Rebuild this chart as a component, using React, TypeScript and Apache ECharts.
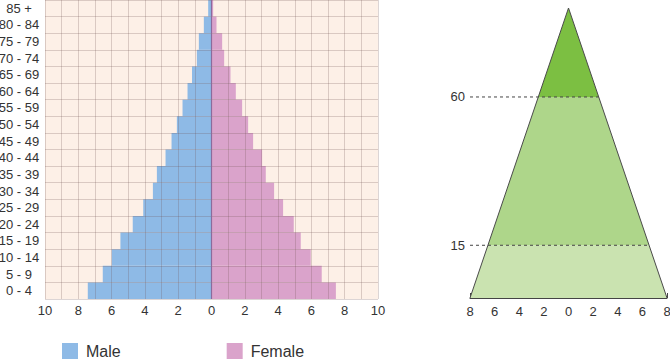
import React, { useEffect, useRef } from "react";
import * as echarts from "echarts";

// ---- Data: population pyramid (percent of population) ----
const ageGroups = [
  "0 - 4", "5 - 9", "10 - 14", "15 - 19", "20 - 24", "25 - 29", "30 - 34", "35 - 39", "40 - 44",
  "45 - 49", "50 - 54", "55 - 59", "60 - 64", "65 - 69", "70 - 74", "75 - 79", "80 - 84", "85 +",
];
const maleValues = [7.43, 6.53, 5.99, 5.47, 4.73, 4.1, 3.52, 3.28, 2.76, 2.4, 2.08, 1.74, 1.44, 1.17, 0.88, 0.76, 0.46, 0.2];
const femaleValues = [7.47, 6.62, 5.96, 5.36, 4.94, 4.3, 3.76, 3.26, 3.04, 2.5, 2.2, 1.84, 1.46, 1.14, 0.76, 0.64, 0.3, 0.1];
const seriesNames = ["Male", "Female"];

// ---- Data: schematic triangle ----
const triangleApexAge = 87;
const triangleBaseAge = -1;
const triangleHalfBase = 8;
const ageBreaks = [15, 60];
const triangleBands = [
  [triangleBaseAge, 15],
  [15, 60],
  [60, triangleApexAge],
];

// ---- Styles ----
const bandColors = ["#cae3b0", "#aed68a", "#7cbf42"];
const maleColor = "#8ebae6";
const femaleColor = "#daa3cb";
const FONT = "'Liberation Sans', Arial, sans-serif";

const halfWidthAt = (age: number) =>
  (triangleHalfBase * (triangleApexAge - age)) / (triangleApexAge - triangleBaseAge);

export default function App() {
  const ref = useRef<HTMLDivElement>(null);

  useEffect(() => {
    if (!ref.current) return;
    const chart = echarts.init(ref.current, undefined, { renderer: "svg" });

    const option: any = {
      animation: false,
      textStyle: { fontFamily: FONT },
      grid: [
        {
          left: 45, right: 292, top: 0, bottom: 61, outerBoundsMode: "none", containLabel: false,
          show: true, backgroundColor: "#fdf0e7", borderWidth: 0,
        },
        { left: 470, right: 3, top: 8, bottom: 62, outerBoundsMode: "none", containLabel: false },
      ],
      legend: {
        data: seriesNames,
        left: 62, top: 343, padding: 0,
        itemWidth: 16, itemHeight: 16, itemGap: 106,
        icon: "rect",
        textStyle: { fontSize: 16, color: "#333", fontFamily: FONT, padding: [0, 0, 0, 3] },
      },
      xAxis: [
        {
          type: "value", gridIndex: 0, min: -10, max: 10, interval: 1, z: 3,
          axisLine: { show: false }, axisTick: { show: false },
          splitLine: { show: true, lineStyle: { color: "rgba(110,80,80,0.24)", width: 1 } },
          axisLabel: {
            margin: 5, fontSize: 13, color: "#333", fontFamily: FONT,
            formatter: (v: number) => (Math.round(v) % 2 === 0 ? String(Math.abs(v)) : ""),
          },
        },
        {
          type: "value", gridIndex: 1, min: -8, max: 8, interval: 2,
          axisLine: { show: true, onZero: false, lineStyle: { color: "#444", width: 1 } },
          axisTick: { show: true, inside: true, length: 5, lineStyle: { color: "#444" } },
          splitLine: { show: false },
          axisLabel: {
            margin: 7, fontSize: 13, color: "#333", fontFamily: FONT,
            formatter: (v: number) => String(Math.abs(v)),
          },
        },
      ],
      yAxis: [
        {
          type: "category", gridIndex: 0, data: ageGroups, z: 3,
          axisLine: { show: false }, axisTick: { show: false },
          splitLine: { show: true, interval: 0, lineStyle: { color: "rgba(110,80,80,0.24)", width: 1 } },
          axisLabel: {
            interval: 0, margin: 26, align: "center", fontSize: 13, color: "#333", fontFamily: FONT,
          },
        },
        {
          type: "value", gridIndex: 1, min: triangleBaseAge, max: triangleApexAge, show: false,
          splitLine: { show: false },
        },
      ],
      series: [
        {
          name: "Male", type: "bar", xAxisIndex: 0, yAxisIndex: 0,
          data: maleValues.map((v) => -v),
          barGap: "-100%", barCategoryGap: "0%",
          itemStyle: { color: maleColor },
        },
        {
          name: "Female", type: "bar", xAxisIndex: 0, yAxisIndex: 0,
          data: femaleValues,
          barGap: "-100%", barCategoryGap: "0%",
          itemStyle: { color: femaleColor },
          markLine: {
            silent: true, symbol: "none", label: { show: false },
            lineStyle: { color: "#8c6b9c", width: 1.2, type: "solid" },
            data: [{ xAxis: 0 }],
          },
        },
        {
          type: "custom", xAxisIndex: 1, yAxisIndex: 1, clip: false, z: 2,
          data: triangleBands.map((b, i) => [b[0], b[1], i]),
          renderItem: (params: any, api: any) => {
            const lo = api.value(0);
            const hi = api.value(1);
            const idx = api.value(2);
            const pts = [
              api.coord([-halfWidthAt(lo), lo]),
              api.coord([halfWidthAt(lo), lo]),
              api.coord([halfWidthAt(hi), hi]),
              api.coord([-halfWidthAt(hi), hi]),
            ];
            return {
              type: "polygon",
              shape: { points: pts },
              style: { fill: bandColors[idx], stroke: null },
            };
          },
        },
        {
          type: "line", xAxisIndex: 1, yAxisIndex: 1, z: 4, symbol: "none",
          lineStyle: { color: "#4a4a4a", width: 1 },
          data: [
            [-triangleHalfBase, triangleBaseAge],
            [0, triangleApexAge],
            [triangleHalfBase, triangleBaseAge],
          ],
        },
        {
          type: "custom", xAxisIndex: 1, yAxisIndex: 1, clip: false, z: 5,
          data: ageBreaks.map((a) => [a]),
          renderItem: (params: any, api: any) => {
            const age = api.value(0);
            const p0 = api.coord([-triangleHalfBase, age]);
            const p1 = api.coord([halfWidthAt(age), age]);
            return {
              type: "group",
              children: [
                {
                  type: "line",
                  shape: { x1: p0[0], y1: p0[1], x2: p1[0], y2: p1[1] },
                  style: { stroke: "#444", lineWidth: 1, lineDash: [3, 3] },
                },
                {
                  type: "text",
                  style: {
                    text: String(age), x: p0[0] - 5, y: p0[1],
                    align: "right", verticalAlign: "middle",
                    fontSize: 13, fontFamily: FONT, fill: "#333",
                  },
                },
              ],
            };
          },
        },
      ],
    };

    chart.setOption(option);
    return () => chart.dispose();
  }, []);

  return (
    <div
      ref={ref}
      style={{ position: "fixed", left: 0, top: 0, width: 670, height: 360, background: "#fff" }}
    />
  );
}
